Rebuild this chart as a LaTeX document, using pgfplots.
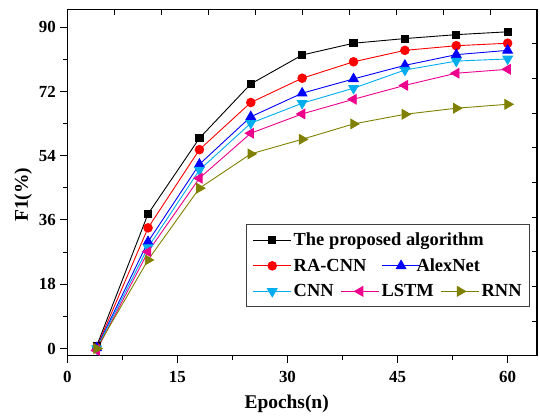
\documentclass[border=0pt]{standalone}
\usepackage{fontspec}
\setmainfont{Liberation Serif}
\usepackage{pgfplots}
\pgfplotsset{compat=1.18}

\definecolor{olivec}{RGB}{128,128,0}

\pgfplotsset{
  legline/.style={legend image code/.code={%
    \draw[mark repeat=2,mark phase=2,##1] plot coordinates {(0bp,0bp)(19bp,0bp)(38bp,0bp)};}},
  leglineshift/.style={legend image code/.code={%
    \draw[mark repeat=2,mark phase=2,overlay,xshift=#1,##1] plot coordinates {(0bp,0bp)(19bp,0bp)(38bp,0bp)};}},
}

% F1 (%) against epochs
\pgfplotstableread{
x    prop  racnn alex  cnn   lstm  rnn
4    0.7   0.3   0.2   0.0  -0.5   0.0
11   37.7  33.8  29.9  28.3  27.1  24.8
18   58.9  55.7  51.6  50.0  47.7  44.9
25   74.1  68.9  64.9  63.1  60.3  54.5
32   82.2  75.7  71.5  68.7  65.7  58.6
39   85.5  80.3  75.5  72.9  69.8  62.9
46   86.8  83.5  79.3  78.0  73.7  65.6
53   87.9  84.8  82.3  80.5  77.1  67.3
60   88.7  85.5  83.5  81.1  78.2  68.4
}\datatab

\begin{document}
\begin{tikzpicture}
\begin{axis}[
    name=main,
    scale only axis,
    width=469.7bp, height=346.4bp,
    xmin=0, xmax=64,
    ymin=-2, ymax=95,
    xtick={0,15,30,45,60},
    ytick={0,18,36,54,72,90},
    minor x tick num=1,
    minor y tick num=1,
    xtick pos=left, ytick pos=left,
    tick align=outside,
    major tick length=7bp,
    minor tick length=4bp,
    every tick/.style={black, line width=1bp},
    axis line style={line width=1.2bp},
    tick label style={font=\bfseries\fontsize{17}{17}\selectfont},
    xticklabel style={yshift=-5bp},
    yticklabel style={xshift=-1bp},
    /pgf/number format/assume math mode=true,
    xlabel={Epochs(n)},
    ylabel={F1(\%)},
    xlabel style={at={(axis description cs:0.467,-0.1518)}, anchor=base,
                  font=\bfseries\fontsize{19.5}{20}\selectfont},
    ylabel style={at={(axis description cs:-0.0837,0.465)}, anchor=base,
                  font=\bfseries\fontsize{19.5}{20}\selectfont},
    legline,
    legend columns=3,
    legend cell align=left,
    legend style={at={(0.985,0.380)}, anchor=north east,
                  draw=black!75, line width=0.8bp,
                  font=\bfseries\fontsize{18.5}{20}\selectfont,
                  inner xsep=6bp, inner ysep=6.5bp, row sep=7.5bp,
                  /tikz/every even column/.append style={column sep=5bp}},
    every axis plot/.append style={line width=0.9bp},
]

\addplot[black, mark=square*, mark size=3.6bp] table[x=x, y=prop] {\datatab};
\addlegendentry{\makebox[0pt][l]{The proposed algorithm}}
\addlegendimage{empty legend}\addlegendentry{}
\addlegendimage{empty legend}\addlegendentry{}

\addplot[red, mark=*, mark size=4.3bp] table[x=x, y=racnn] {\datatab};
\addlegendentry{\makebox[0pt][l]{RA-CNN}}

\addplot[blue, mark=triangle*, mark size=5.5bp, forget plot] table[x=x, y=alex] {\datatab};
\addlegendimage{blue, mark=triangle*, mark size=5.5bp, line width=0.9bp, leglineshift=41bp}
\addlegendentry{\makebox[0pt][l]{\hspace*{35bp}AlexNet}}
\addlegendimage{empty legend}\addlegendentry{}

\addplot[cyan, mark=triangle*, mark size=5.5bp, mark options={rotate=180}] table[x=x, y=cnn] {\datatab};
\addlegendentry{CNN}

\addplot[magenta, mark=triangle*, mark size=5.5bp, mark options={rotate=90}] table[x=x, y=lstm] {\datatab};
\addlegendentry{LSTM}

\addplot[olivec, mark=triangle*, mark size=5.5bp, mark options={rotate=-90}] table[x=x, y=rnn] {\datatab};
\addlegendentry{RNN}
\end{axis}

% mirrored ticks on top and right, as in the original
\begin{axis}[
    scale only axis,
    width=469.7bp, height=346.4bp,
    xmin=0, xmax=64,
    ymin=-2, ymax=95,
    axis x line*=top, axis y line*=right,
    axis line style={-, line width=1.2bp},
    xtick={6.4,12.8,19.2,25.6,32,38.4,44.8,51.2,57.6},
    ytick={7.7,17.4,27.1,36.8,46.5,56.2,65.9,75.6,85.3},
    xticklabels={}, yticklabels={},
    tick align=inside,
    major tick length=5.5bp,
    every tick/.style={black, line width=1bp},
]
\end{axis}

\pgfresetboundingbox
\path[use as bounding box] ([xshift=-67.3bp,yshift=-61.3bp]main.south west)
    rectangle ([xshift=3bp,yshift=9.3bp]main.north east);
\end{tikzpicture}
\end{document}
